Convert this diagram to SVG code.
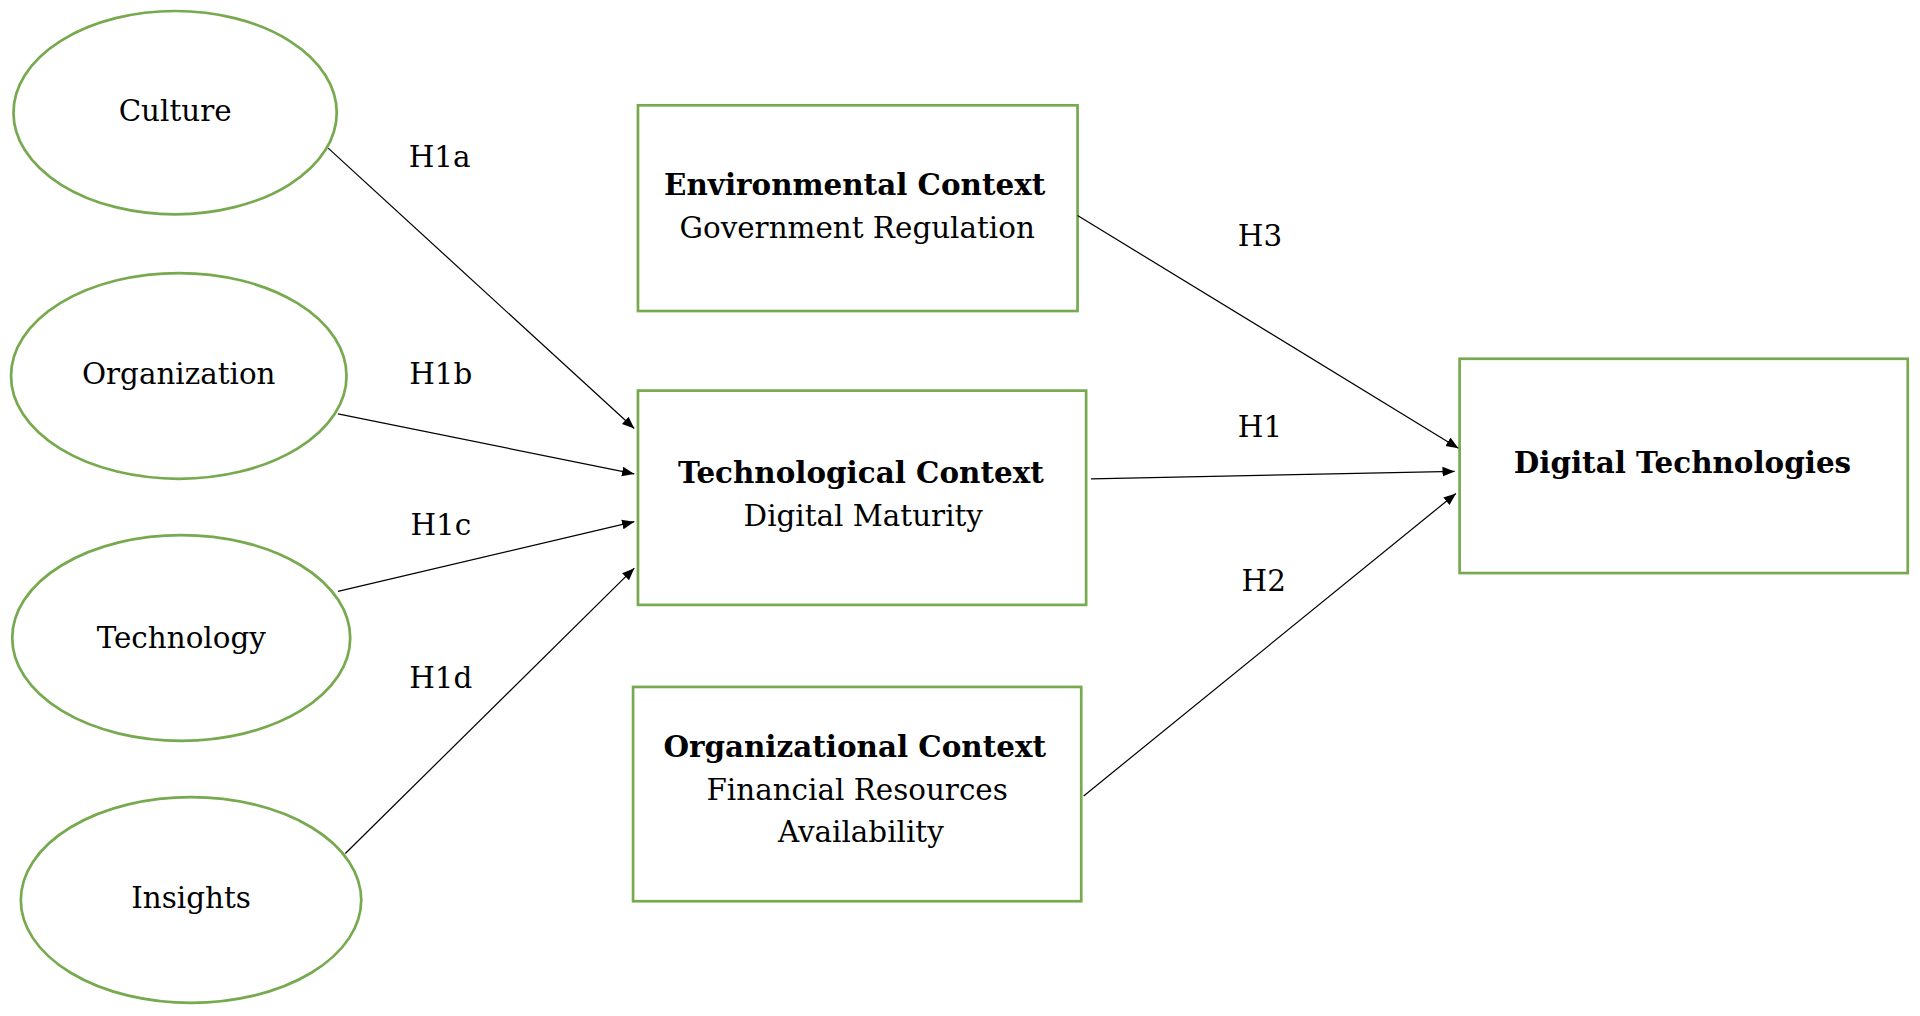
<svg xmlns="http://www.w3.org/2000/svg" width="1920" height="1016" viewBox="0 0 1920 1016">
<style>
.n{fill:#fff;stroke:#77a94f;stroke-width:2.2}
text{font-family:"DejaVu Serif","Liberation Serif",serif;font-size:24px;fill:#000;text-anchor:middle;dominant-baseline:middle}
.b{font-weight:bold}
.c{stroke:#000;stroke-width:1;fill:none;marker-end:url(#a)}
</style>
<defs><marker id="a" viewBox="0 0 10 10" refX="10" refY="5" markerWidth="10" markerHeight="10" markerUnits="userSpaceOnUse" orient="auto"><path d="M0,1L10,5L0,9z" fill="#000"/></marker></defs>
<rect width="1920" height="1016" fill="#fff"/>
<g transform="scale(1.2245)">
<g id="culture"><ellipse class="n" cx="143" cy="92" rx="132" ry="83"/><text x="143" y="92">Culture</text></g>
<g id="organization"><ellipse class="n" cx="146" cy="307" rx="137" ry="84"/><text x="146" y="307">Organization</text></g>
<g id="technology"><ellipse class="n" cx="148" cy="521" rx="138" ry="84"/><text x="148" y="523">Technology</text></g>
<g id="insights"><ellipse class="n" cx="156" cy="735" rx="139" ry="84"/><text x="156" y="735">Insights</text></g>
<g id="env"><rect class="n" x="521" y="86" width="359" height="168"/><text class="b" x="698" y="153">Environmental Context</text><text x="700" y="188">Government Regulation</text></g>
<g id="tech"><rect class="n" x="521" y="319" width="366" height="175"/><text class="b" x="703" y="388">Technological Context</text><text x="705" y="423">Digital Maturity</text></g>
<g id="org"><rect class="n" x="517" y="561" width="366" height="175"/><text class="b" x="698" y="612">Organizational Context</text><text x="700" y="647">Financial Resources</text><text x="703" y="681">Availability</text></g>
<g id="digital"><rect class="n" x="1192" y="293" width="366" height="175"/><text class="b" x="1374" y="380">Digital Technologies</text></g>
<g id="connectors">
<path class="c" d="M268,121L518,350"/><path class="c" d="M276,338L518,387"/><path class="c" d="M276,483L518,426"/><path class="c" d="M282,697L518,464"/>
<path class="c" d="M880,176L1191,366"/><path class="c" d="M891,391L1188,385"/><path class="c" d="M885,650L1189,403"/>
<text x="359" y="130">H1a</text><text x="360" y="307">H1b</text><text x="360" y="430">H1c</text><text x="360" y="555">H1d</text>
<text x="1029" y="194">H3</text><text x="1029" y="350">H1</text><text x="1032" y="476">H2</text>
</g>
</g>
</svg>
